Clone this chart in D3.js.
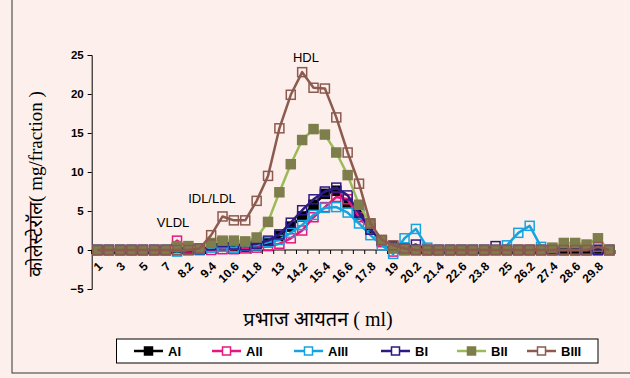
<!DOCTYPE html>
<html><head><meta charset="utf-8">
<script src="https://cdn.jsdelivr.net/npm/d3@7/dist/d3.min.js"></script>
<style>
html,body{margin:0;padding:0;background:#fdf0ec;}
svg{display:block;}
</style></head>
<body>
<svg id="c" width="630" height="378"></svg>
<script>
const categories = [1,2,3,4,5,6,7,7.6,8.2,8.8,9.4,10,10.6,11.2,11.8,12.4,13,13.6,14.2,14.8,15.4,16,16.6,17.2,17.8,18.4,19,19.6,20.2,20.8,21.4,22,22.6,23.2,23.8,24.4,25,25.6,26.2,26.8,27.4,28,28.6,29.2,29.8,30.4];
const AI   = [0,0,0,0,0,0,0, 0.3,0.2,0.2,0.5,0.6,0.5,0.4,0.6,1.0,1.8,3.0,4.3,5.8,7.2,7.6,6.0,4.5,2.8,1.2,0.3,0,0,0,0,0,0,0,0,0,0,0,0,0,0,0,0,0,0,0];
const AII  = [0,0,0,0,0,0,0, 1.2,0.2,0,0,0.1,0.1,0.2,0.3,0.5,0.8,1.5,2.5,4.2,5.5,6.8,6.5,4.2,2.6,1.0,-0.2,0,0,0,0,0,0,0,0,0,0,0,0,0,0,0,0,0,0,0];
const AIII = [0,0,0,0,0,0,0, -0.2,0,0,0.3,0.4,0.3,0.5,0.6,1.0,1.3,2.2,3.2,4.5,5.4,5.5,4.8,3.4,1.9,0.6,-0.5,1.5,2.7,0.3,0,0,0,0,0,0,0.6,2.2,3.1,0.4,0,0,0,0,0,0];
const BI   = [0,0,0,0,0,0,0, 0,0,0.1,0.6,1.0,0.7,0.6,0.8,1.2,2.0,3.5,5.1,6.5,7.5,8.0,7.0,4.8,2.6,1.2,0.5,0.2,0.7,0,0,0,0,0,0,0.5,0,0,0,0,0,0,0,0,0,0];
const BII  = [0,0,0,0,0,0,0, 0.5,0.5,0.2,0.9,1.2,1.2,1.1,1.6,3.6,7.4,11.0,14.1,15.5,14.8,12.5,9.6,5.8,3.4,1.2,0.2,0,0,0,0,0,0,0,0,0,0,0,0,0,0.3,0.9,0.9,0.7,1.5,0];
const BIII = [0,0,0,0,0,0,0, 0,0,0.2,1.9,4.3,3.8,3.8,6.3,9.5,15.6,19.9,22.8,20.8,20.7,17.0,12.5,8.5,3.4,1.3,0.6,0.2,0,0,0,0,0,0,0,0,0,0,0,0,0,0,0,0,0.4,0];
const yTicks = [-5,0,5,10,15,20,25];
const seriesNames = ["AI","AII","AIII","BI","BII","BIII"];

const series = [
  {name:"AI",   values:AI,   line:"#000000", stroke:"#000000", fill:"#000000"},
  {name:"AII",  values:AII,  line:"#e3197f", stroke:"#e3197f", fill:"none"},
  {name:"AIII", values:AIII, line:"#16a4e0", stroke:"#16a4e0", fill:"none"},
  {name:"BI",   values:BI,   line:"#2b1a86", stroke:"#2b1a86", fill:"none"},
  {name:"BII",  values:BII,  line:"#9bbb59", stroke:"#7e7e4c", fill:"#7e7e4c"},
  {name:"BIII", values:BIII, line:"#8c5a4e", stroke:"#8c5a4e", fill:"none"}
];

const svg = d3.select("#c");
// outer frame
svg.append("rect").attr("x",12).attr("y",-2).attr("width",630).attr("height",375).attr("fill","none").attr("stroke","#333").attr("stroke-width",1);

const pLeft = 91.7, pRight = 615, pTop = 55, pBottom = 289;
const xb = d3.scaleBand().domain(categories.map(String)).range([pLeft,pRight]);
const x = c => xb(String(c)) + xb.bandwidth()/2;
const y = d3.scaleLinear().domain([-5,25]).range([pBottom, pTop]);

// y axis
const ya = svg.append("g").attr("transform",`translate(${pLeft},0)`)
  .call(d3.axisLeft(y).tickValues(yTicks).tickSize(4).tickPadding(4).tickFormat(d3.format("d")));
ya.selectAll("path,line").attr("stroke","#000").attr("stroke-width",1);
ya.selectAll("text").attr("font-family","Liberation Sans, Arial, sans-serif").attr("font-weight","bold").attr("font-size","11.5px").attr("fill","#000");

// x axis at y=0
const y0 = y(0);
const xa = svg.append("g");
xa.append("line").attr("x1",pLeft).attr("x2",pRight).attr("y1",y0).attr("y2",y0).attr("stroke","#000");
const edges = categories.map(c => xb(String(c))).concat([pRight]);
xa.selectAll("line.t").data(edges).enter().append("line")
  .attr("x1",d=>d).attr("x2",d=>d).attr("y1",y0).attr("y2",y0+4).attr("stroke","#000");
xa.selectAll("text").data(categories.filter((c,i)=>i%2===0)).enter().append("text")
  .attr("transform",d=>`translate(${x(d)},${y0+11}) rotate(-45)`)
  .attr("text-anchor","end").attr("dy","0.7em")
  .attr("font-family","Liberation Sans, Arial, sans-serif").attr("font-weight","bold").attr("font-size","12px")
  .text(d=>String(d));

// lines and markers
const lineGen = d3.line().x((d,i)=>x(categories[i])).y(d=>y(d));
series.forEach(s=>{
  const g = svg.append("g");
  g.append("path").attr("d",lineGen(s.values)).attr("fill","none").attr("stroke",s.line).attr("stroke-width",2.5).attr("stroke-linejoin","round");
  g.selectAll("rect").data(s.values).enter().append("rect")
    .attr("x",(d,i)=>x(categories[i])-4.5).attr("y",d=>y(d)-4.5).attr("width",9).attr("height",9)
    .attr("fill",s.fill).attr("stroke",s.stroke).attr("stroke-width",1.5);
});

// annotations
const ann = [{t:"HDL",x:306,y:62},{t:"IDL/LDL",x:212,y:203},{t:"VLDL",x:173,y:227}];
svg.selectAll("text.ann").data(ann).enter().append("text").attr("class","ann")
  .attr("x",d=>d.x).attr("y",d=>d.y).attr("text-anchor","middle")
  .attr("font-family","Liberation Sans, Arial, sans-serif").attr("font-size","13px").text(d=>d.t);

// axis titles
svg.append("text").attr("transform","translate(42,184) rotate(-90)").attr("text-anchor","middle")
  .attr("font-family","Liberation Serif, Noto Sans, serif").attr("font-size","19px")
  .text("कोलेस्टेरॉल( mg/fraction )");
svg.append("text").attr("x",318).attr("y",326).attr("text-anchor","middle")
  .attr("font-family","Liberation Serif, Noto Sans, serif").attr("font-size","20px")
  .text("प्रभाज आयतन ( ml)");

// legend
const lg = svg.append("g");
lg.append("rect").attr("x",116.5).attr("y",339).attr("width",481.5).attr("height",24).attr("fill","#fff").attr("stroke","#000").attr("stroke-width",1);
const lx = [134,212,294,381,457,527];
series.forEach((s,i)=>{
  const cx = lx[i];
  lg.append("line").attr("x1",cx).attr("x2",cx+29).attr("y1",351).attr("y2",351).attr("stroke",s.line).attr("stroke-width",2.5);
  lg.append("rect").attr("x",cx+14.5-4).attr("y",351-4).attr("width",8).attr("height",8).attr("fill",s.fill==="none"?"#fff":s.fill).attr("stroke",s.stroke).attr("stroke-width",1.5);
  lg.append("text").attr("x",cx+34).attr("y",356).attr("font-family","Liberation Sans, Arial, sans-serif").attr("font-weight","bold").attr("font-size","13px").text(s.name);
});
</script>
</body></html>
